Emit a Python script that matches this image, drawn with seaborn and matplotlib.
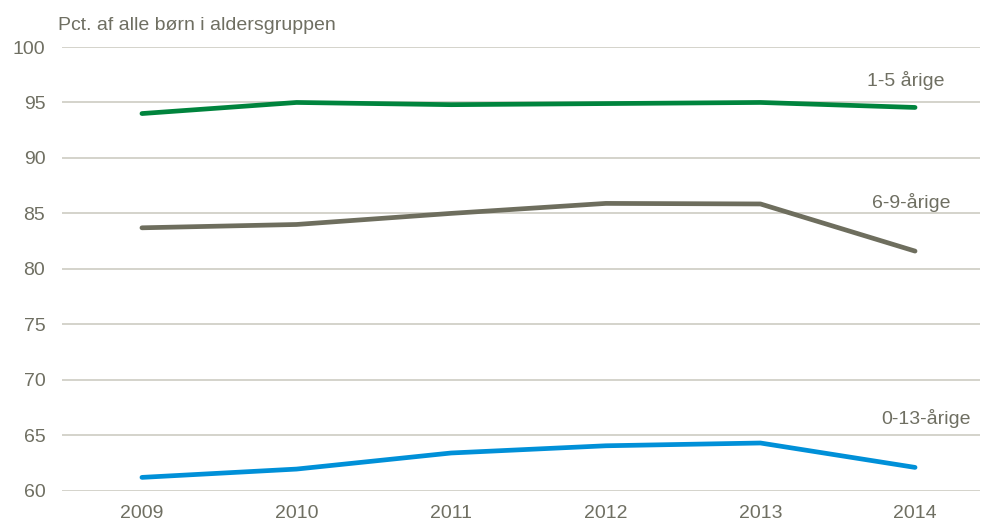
import pandas as pd
import numpy as np
import matplotlib.pyplot as plt
import seaborn as sns

years = ['2009', '2010', '2011', '2012', '2013', '2014']
age_1_5 = [94.0, 95.0, 94.8, 94.9, 95.0, 94.55]
age_6_9 = [83.7, 84.0, 85.0, 85.9, 85.85, 81.6]
age_0_13 = [61.2, 61.95, 63.4, 64.05, 64.3, 62.1]
series_names = ['1-5 årige', '6-9-årige', '0-13-årige']
colors = ['#00843d', '#6e6e5e', '#0090d8']

sns.set_theme(style='white')
plt.rcParams['font.family'] = ['Liberation Sans', 'DejaVu Sans']

df = pd.DataFrame({
    'year': years * 3,
    'value': age_1_5 + age_6_9 + age_0_13,
    'group': [series_names[0]] * 6 + [series_names[1]] * 6 + [series_names[2]] * 6,
})

text_col = '#6f6f62'
fs = 14
fig = plt.figure(figsize=(9.82, 5.26), dpi=100)
ax = fig.add_axes([62 / 982, 1 - 490.7 / 526, (980 - 62) / 982, (490.7 - 47) / 526])

# horizontal gridlines
for y in range(60, 101, 5):
    ax.axhline(y, color='#c9c7bd', lw=1.1, zorder=0)

sns.lineplot(data=df, x='year', y='value', hue='group', palette=colors,
             linewidth=3.4, legend=False, ax=ax, sort=False)
for line in ax.get_lines():
    line.set_solid_capstyle('round')

ax.set_ylim(60, 100)
ax.set_xlim(-0.517, 5.42)
ax.set_yticks(range(60, 101, 5))
ax.set_xlabel('')
ax.set_ylabel('')
for s in ax.spines.values():
    s.set_visible(False)
ax.tick_params(axis='both', length=0, labelsize=fs, colors=text_col)
ax.tick_params(axis='y', pad=12)
ax.tick_params(axis='x', pad=10)

# series labels
ax.text(5.19, 96.97, series_names[0], ha='right', va='center', fontsize=fs, color=text_col)
ax.text(5.23, 86.0, series_names[1], ha='right', va='center', fontsize=fs, color=text_col)
ax.text(5.36, 66.5, series_names[2], ha='right', va='center', fontsize=fs, color=text_col)

fig.text(58 / 982, 1 - 25 / 526, 'Pct. af alle børn i aldersgruppen', ha='left', va='center',
         fontsize=fs, color=text_col)

fig.savefig('out.png', dpi=100)
